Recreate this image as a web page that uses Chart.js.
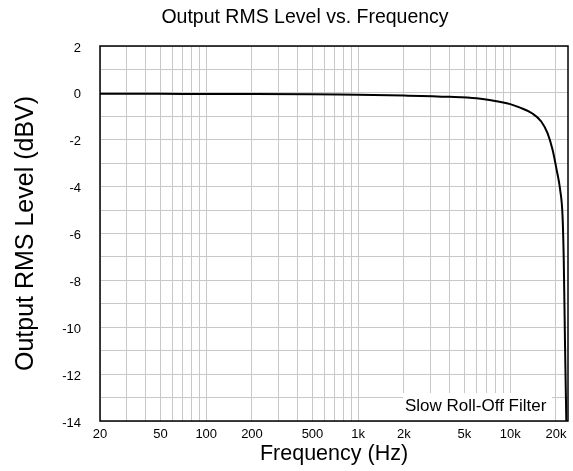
<!DOCTYPE html>
<html>
<head>
<meta charset="utf-8">
<title>Output RMS Level vs. Frequency</title>
<script src="https://cdn.jsdelivr.net/npm/chart.js@4.4.1/dist/chart.umd.min.js"></script>
<style>
  body { margin: 0; background: #fff; }
  canvas { display: block; }
</style>
</head>
<body>
<canvas id="rmsChart" width="573" height="471"></canvas>
<script>
// measured response, slow roll-off filter (Hz / dBV)
const frequencies = [20, 50, 100, 200, 500, 750, 1000, 2000, 4000, 6000, 7300, 8500, 10000,
    11500, 14000, 16000, 17600, 19000, 20200, 21300, 22100, 22500, 22950, 23400];
const levels = [-0.04, -0.04, -0.05, -0.05, -0.06, -0.07, -0.08, -0.115, -0.17, -0.23, -0.3, -0.38, -0.48,
    -0.62, -0.88, -1.22, -1.72, -2.43, -3.28, -4.13, -5.27, -7.1, -10.8, -14];

const xTickValues = [20, 50, 100, 200, 500, 1000, 2000, 5000, 10000, 20000];
const xTickLabels = ['20', '50', '100', '200', '500', '1k', '2k', '5k', '10k', '20k'];
const yTickValues = [2, 0, -2, -4, -6, -8, -10, -12, -14];
const chartTitle = 'Output RMS Level vs. Frequency';
const filterName = 'Slow Roll-Off Filter';

const fontFamily = 'Arial, "Liberation Sans", sans-serif';

// gridlines at every 1..9 step of each decade
const xGridValues = [];
for (let decade = 10; decade <= 10000; decade *= 10) {
    for (let m = 1; m <= 9; m++) {
        const v = m * decade;
        if (v >= 20 && v <= 20000) xGridValues.push(v);
    }
}

const points = frequencies.map((f, i) => ({ x: f, y: levels[i] }));

// title, white label box in the lower right corner, black frame round the plot
const plotDecor = {
    id: 'plotDecor',
    beforeDatasetsDraw(chart) {
        const { ctx, chartArea: a } = chart;
        ctx.save();
        ctx.fillStyle = '#000';
        ctx.font = '19.5px ' + fontFamily;
        ctx.textAlign = 'center';
        ctx.textBaseline = 'middle';
        ctx.fillText(chartTitle, 305, 18);

        ctx.fillStyle = '#fff';
        ctx.fillRect(a.right - 165, a.bottom - 28, 149, 28);
        ctx.fillStyle = '#000';
        ctx.font = '17px ' + fontFamily;
        ctx.textAlign = 'left';
        ctx.textBaseline = 'alphabetic';
        ctx.fillText(filterName, a.right - 163, a.bottom - 10);
        ctx.restore();
    },
    afterDatasetsDraw(chart) {
        const { ctx, chartArea: a } = chart;
        ctx.save();
        ctx.strokeStyle = '#000';
        ctx.lineWidth = 1.5;
        ctx.strokeRect(a.left, a.top, a.right - a.left, a.bottom - a.top);
        ctx.restore();
    }
};

new Chart(document.getElementById('rmsChart'), {
    type: 'line',
    data: {
        datasets: [{
            data: points,
            borderColor: '#000',
            borderWidth: 2,
            pointRadius: 0,
            fill: false,
            cubicInterpolationMode: 'monotone'
        }]
    },
    options: {
        responsive: false,
        animation: false,
        layout: { padding: { left: 0, right: 5, top: 46, bottom: 0 } },
        plugins: {
            legend: { display: false },
            tooltip: { enabled: false },
            title: { display: false }
        },
        scales: {
            x: {
                type: 'logarithmic',
                min: 20,
                max: 24000,
                afterBuildTicks: (scale) => {
                    scale.ticks = xGridValues.map(v => ({ value: v }));
                },
                afterFit: (scale) => { scale.height = 50; },
                grid: { color: '#c8c8c8', lineWidth: 1, drawTicks: false },
                border: { display: false },
                ticks: {
                    autoSkip: false,
                    maxRotation: 0,
                    padding: 6,
                    color: '#000',
                    font: { family: fontFamily, size: 13 },
                    callback: (value) => {
                        const i = xTickValues.indexOf(value);
                        return i === -1 ? '' : xTickLabels[i];
                    }
                },
                title: {
                    display: true,
                    text: 'Frequency (Hz)',
                    color: '#000',
                    font: { family: fontFamily, size: 21.5 },
                    padding: { top: 0, bottom: 4 }
                }
            },
            y: {
                min: -14,
                max: 2,
                afterFit: (scale) => { scale.width = 100; },
                grid: { color: '#c8c8c8', lineWidth: 1, drawTicks: false },
                border: { display: false },
                ticks: {
                    stepSize: 1,
                    autoSkip: false,
                    padding: 19,
                    labelOffset: 2,
                    color: '#000',
                    font: { family: fontFamily, size: 13 },
                    callback: (value) => yTickValues.includes(value) ? value : ''
                },
                title: {
                    display: true,
                    text: 'Output RMS Level (dBV)',
                    color: '#000',
                    font: { family: fontFamily, size: 25 },
                    padding: { top: 11, bottom: 0 }
                }
            }
        }
    },
    plugins: [plotDecor]
});
</script>
</body>
</html>
